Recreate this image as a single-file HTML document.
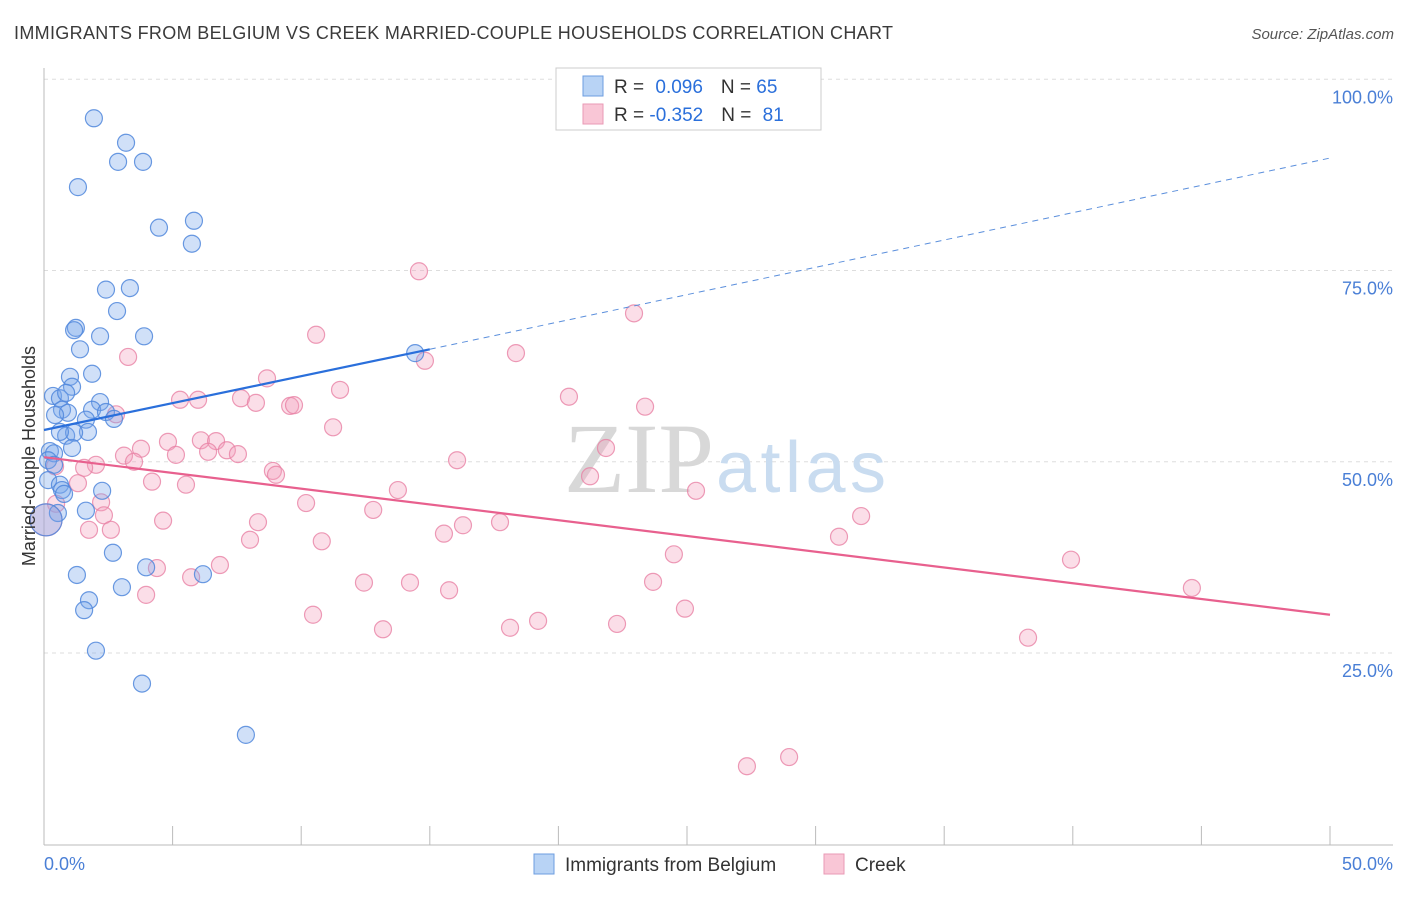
<!DOCTYPE html>
<html><head><meta charset="utf-8"><style>
body{margin:0;background:#fff;font-family:"Liberation Sans",sans-serif}
svg text{font-family:"Liberation Sans",sans-serif}
</style></head><body>
<svg width="1406" height="892">
<text x="14" y="39" font-size="18" fill="#3a3a3a" textLength="879">IMMIGRANTS FROM BELGIUM VS CREEK MARRIED-COUPLE HOUSEHOLDS CORRELATION CHART</text>
<text x="1394" y="39" font-size="15" fill="#555" font-style="italic" text-anchor="end">Source: ZipAtlas.com</text>
<g id="grid"></g>
<text x="714" y="492" font-size="100" fill="#d8d8d8" text-anchor="end" style="font-family:'Liberation Serif',serif">ZIP</text>
<text x="716" y="492" font-size="72" fill="#c9dcf0" textLength="170">atlas</text>
<g id="marks"></g>
<text x="35" y="456" font-size="18" fill="#333" text-anchor="middle" transform="rotate(-90 35 456)">Married-couple Households</text>
<g>
<rect x="556" y="68" width="265" height="62" fill="#fff" stroke="#ccc"/>
<rect x="583" y="76" width="20" height="20" fill="#b8d3f5" stroke="#6d9ee0"/>
<rect x="583" y="104" width="20" height="20" fill="#f9c6d6" stroke="#e99ab5"/>
<text x="614" y="93" font-size="19" fill="#333">R = <tspan fill="#2a6fdb" dx="6">0.096</tspan><tspan dx="18" fill="#333">N = </tspan><tspan fill="#2a6fdb">65</tspan></text>
<text x="614" y="121" font-size="19" fill="#333">R = <tspan fill="#2a6fdb" dx="0">-0.352</tspan><tspan dx="18" fill="#333">N = </tspan><tspan fill="#2a6fdb" dx="6">81</tspan></text>
</g>
<g>
<rect x="534" y="854" width="20" height="20" fill="#b8d3f5" stroke="#6d9ee0"/>
<text x="565" y="871" font-size="19" fill="#333">Immigrants from Belgium</text>
<rect x="824" y="854" width="20" height="20" fill="#f9c6d6" stroke="#e99ab5"/>
<text x="855" y="871" font-size="19" fill="#333">Creek</text>
</g>
</svg>
<script>
const yTicks=[25,50,75,100];
const xTickLabels=["0.0%","50.0%"];
const blueX=[1.94,3.19,2.88,3.85,1.32,4.47,5.83,5.75,2.41,3.34,2.84,1.24,1.17,3.89,2.18,1.40,14.43,1.87,1.01,1.09,0.35,0.62,0.86,2.18,1.87,2.41,0.70,0.93,0.43,1.63,2.72,1.71,0.86,1.17,0.62,1.09,0.23,0.39,0.16,0.39,0.16,0.62,0.70,0.78,2.26,1.63,0.54,2.68,3.97,6.18,1.28,1.75,1.56,3.03,2.02,3.81,7.85,0.08];
const blueY=[94.9,91.7,89.2,89.2,85.9,80.6,81.5,78.5,72.5,72.7,69.7,67.5,67.2,66.4,66.4,64.7,64.2,61.5,61.1,59.8,58.6,58.3,59.0,57.8,56.8,56.5,56.8,56.4,56.1,55.5,55.6,53.9,53.4,53.8,53.9,51.8,51.4,51.1,50.2,49.6,47.6,47.0,46.3,45.8,46.2,43.6,43.3,38.1,36.2,35.3,35.2,31.9,30.6,33.6,25.3,21.0,14.3,42.4];
const pinkX=[14.58,22.94,10.58,18.35,14.81,3.27,8.67,11.51,20.41,5.29,5.99,7.66,8.24,9.57,9.72,23.37,2.80,11.24,6.10,4.82,6.69,3.77,7.11,7.54,6.38,5.13,3.11,3.50,21.85,16.06,2.02,1.56,0.43,8.90,9.02,21.23,4.20,5.52,1.32,13.76,25.35,2.22,10.19,0.47,12.80,31.77,2.33,4.63,8.32,17.73,16.29,1.75,2.60,15.55,10.80,8.01,30.91,24.49,39.93,6.84,4.39,5.72,12.44,14.23,23.68,15.75,44.63,3.97,24.92,10.46,19.21,22.28,18.12,13.18,38.26,28.97,27.33,0.08];
const pinkY=[74.9,69.4,66.6,64.2,63.2,63.7,60.9,59.4,58.5,58.1,58.1,58.3,57.7,57.3,57.4,57.2,56.2,54.5,52.8,52.6,52.7,51.7,51.5,51.0,51.3,50.9,50.8,50.0,51.8,50.2,49.6,49.2,49.4,48.8,48.3,48.1,47.4,47.0,47.2,46.3,46.2,44.7,44.6,44.5,43.7,42.9,43.0,42.3,42.1,42.1,41.7,41.1,41.1,40.6,39.6,39.8,40.2,37.9,37.2,36.5,36.1,34.9,34.2,34.2,34.3,33.2,33.5,32.6,30.8,30.0,29.2,28.8,28.3,28.1,27.0,11.4,10.2,42.4];
const blueTrend=[54.15,64.7,89.7]; // at x=0, x=15, x=50
const pinkTrend=[50.6,30.0]; // at x=0, x=50
const NS="http://www.w3.org/2000/svg";
const sx=v=>44+v/50*1286;
const sy=v=>653-(v-25)*7.65;
function mk(t,a,p){const e=document.createElementNS(NS,t);for(const k in a)e.setAttribute(k,a[k]);p.appendChild(e);return e;}
const grid=document.getElementById('grid'),marks=document.getElementById('marks');
yTicks.forEach(t=>{
 const l=mk('line',{x1:44,x2:1393,y1:sy(t),y2:sy(t),stroke:'#ddd','stroke-dasharray':'4 4'},grid);
 
 
 const tx=mk('text',{x:1393,y:sy(t)+24,'font-size':18,fill:'#4a7fd6','text-anchor':'end'},grid);
 tx.textContent=t.toFixed(1)+'%';
 
 
});
const ax=mk('line',{x1:44,x2:44,y1:68,y2:845,stroke:'#bbb'},grid);


const bx=mk('line',{x1:44,x2:1393,y1:845,y2:845,stroke:'#bbb'},grid);


for(let i=0;i<=10;i++){const t=mk('line',{x1:sx(i*5),x2:sx(i*5),y1:826,y2:845,stroke:'#bbb'},grid);
 
 }
[[0,'start'],[50,'end']].forEach((d,i)=>{const t=mk('text',{x:sx(d[0])+(i?63:0),y:870,'font-size':18,fill:'#4a7fd6','text-anchor':d[1]},grid);
 t.textContent=xTickLabels[i];
 
 });
pinkX.forEach((x,i)=>{const c=mk('circle',{cx:sx(x),cy:sy(pinkY[i]),r:i==pinkX.length-1?16:8.5,fill:'rgba(244,160,188,0.35)',stroke:'rgba(232,130,165,0.8)','stroke-width':1.2},marks);
 
 });
blueX.forEach((x,i)=>{const c=mk('circle',{cx:sx(x),cy:sy(blueY[i]),r:i==blueX.length-1?16:8.5,fill:'rgba(120,165,235,0.35)',stroke:'rgba(80,135,220,0.85)','stroke-width':1.2},marks);
 
 });
const bl=mk('line',{x1:sx(0),y1:sy(blueTrend[0]),x2:sx(15),y2:sy(blueTrend[1]),stroke:'#2a6fdb','stroke-width':2.2},marks);


const bd=mk('line',{x1:sx(15),y1:sy(blueTrend[1]),x2:sx(50),y2:sy(blueTrend[2]),stroke:'#5b8fdc','stroke-width':1,'stroke-dasharray':'6 5'},marks);


const pl=mk('line',{x1:sx(0),y1:sy(pinkTrend[0]),x2:sx(50),y2:sy(pinkTrend[1]),stroke:'#e8608e','stroke-width':2.2},marks);


</script>
</body></html>
